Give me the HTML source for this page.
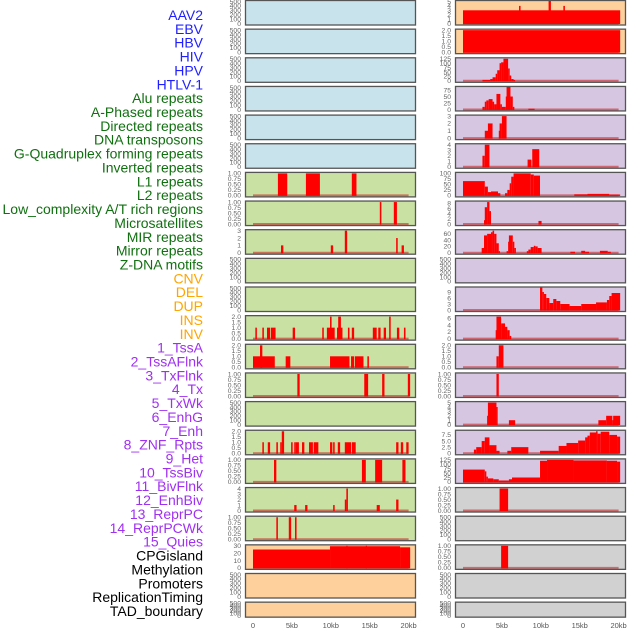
<!DOCTYPE html>
<html><head><meta charset="utf-8"><style>
html,body{margin:0;padding:0;background:#fff;width:630px;height:630px;overflow:hidden}
svg{display:block;font-family:"Liberation Sans",sans-serif}
</style></head><body>
<svg id="chart" width="630" height="630" viewBox="0 0 630 630"></svg>
<script>
const trackLabels=["AAV2","EBV","HBV","HIV","HPV","HTLV-1","Alu repeats","A-Phased repeats","Directed repeats","DNA transposons","G-Quadruplex forming repeats","Inverted repeats","L1 repeats","L2 repeats","Low_complexity A/T rich regions","Microsatellites","MIR repeats","Mirror repeats","Z-DNA motifs","CNV","DEL","DUP","INS","INV","1_TssA","2_TssAFlnk","3_TxFlnk","4_Tx","5_TxWk","6_EnhG","7_Enh","8_ZNF_Rpts","9_Het","10_TssBiv","11_BivFlnk","12_EnhBiv","13_ReprPC","14_ReprPCWk","15_Quies","CPGisland","Methylation","Promoters","ReplicationTiming","TAD_boundary"];
const labelGroups=[0,0,0,0,0,0,1,1,1,1,1,1,1,1,1,1,1,1,1,2,2,2,2,2,3,3,3,3,3,3,3,3,3,3,3,3,3,3,3,4,4,4,4,4];
const groupColors=["#1f1fff","#107010","#ffa500","#a030f0","#000000"];
const panelBg=["#c8e3eb","#c9e1a3","#fed09c","#d6c6e2","#d1d1d1"];
const T500=["0","100","200","300","400","500"],T1=["0.00","0.25","0.50","0.75","1.00"],T2=["0.0","0.5","1.0","1.5","2.0"];
// 44 panels: column-major (22 left, 22 right)
const panelTicks=[T500,T500,T500,T500,T500,T500,T1,T1,["0","1","2","3"],T500,T500,T2,T2,T1,T500,T2,T1,["0","1","2","3","4"],T1,["0","10","20","30"],T500,T500,
["0","1","2","3","4","5"],T2,["0","25","50","75","100","125"],["0","25","50","75"],["0","1","2","3"],["0","1","2","3","4"],["0","25","50","75","100"],["0","2","4","6","8"],["0","20","40","60"],T500,["0","3","6","9"],["0","2","4","6"],T2,T1,["0","1","2","3","4","5"],["0","2.5","5.0","7.5"],["0","25","50","75","100","125"],T1,T500,T1,T500,T500];
const panelMax=[500,500,500,500,500,500,1,1,3,500,500,2,2,1,500,2,1,4,1,30,500,500,5,2,125,85,3,4,100,8.5,70,500,11,6.5,2,1,5,9,125,1,500,1,500,500];
const leftSegments=[[],[],[],[],[],[],
[[3.2,4.4,1],[6.8,8.6,1],[12.7,13.3,1]],
[[16.3,16.5,1],[18.1,18.5,1]],
[[3.6,3.9,1],[10.0,10.3,1],[11.8,12.1,3],[18.4,18.6,2],[19.1,19.4,1]],
[],[],
[[0.3,0.5,1],[1.2,1.4,1],[1.8,2.2,1],[2.3,2.9,1],[5.1,5.4,1],[8.9,9.1,1],[9.5,10.5,1],[9.9,10.1,2],[10.8,11.5,1],[10.95,11.3,2],[12.2,12.4,1],[12.7,13.0,1],[15.4,15.9,1],[16.1,16.4,1],[16.8,17.1,1],[17.5,17.7,2],[18.5,18.8,1],[19.4,19.6,1]],
[[0,2.8,1],[0.9,1.2,2],[4.2,4.8,1],[9.9,12.4,1],[12.6,13.0,1],[13.1,14.2,1],[14.7,14.9,1]],
[[5.7,6.0,1],[14.3,14.8,1],[16.6,16.9,1],[19.9,20.2,1]],
[],
[[1.2,1.4,1],[1.9,2.2,1],[3.0,3.2,1],[3.5,3.7,1],[3.7,4.0,2],[4.9,5.1,1],[5.3,5.5,1],[5.5,5.9,1],[6.3,6.6,1],[7.2,7.7,1],[7.8,8.4,1],[9.9,10.2,1],[10.3,10.5,1],[10.9,11.2,1],[11.8,12.6,1],[12.7,13.2,1],[18.4,18.7,1],[19.0,19.3,1],[19.7,20.0,1]],
[[2.7,3.0,1],[14.0,14.5,1],[15.7,16.6,1],[19.2,19.6,1]],
[[5.3,5.6,1],[6.7,7.0,1],[10.3,10.5,1],[11.8,12.0,2],[12.0,12.2,4],[15.9,16.3,1],[18.4,18.7,2]],
[[3.0,3.2,1],[4.6,4.9,1],[5.4,5.6,1]],
[[0,9.9,25],[9.9,18.9,29.5],[18.9,20.2,28],[12.0,12.1,30],[14.5,14.6,30]],
[],[]];
const rightSegments=[
[[0,20.2,3],[7.2,7.4,4],[11.0,11.3,6],[12.9,13.1,4]],
[[0,20.2,2]],
[[2.5,3.5,5],[3.5,3.8,10],[3.8,4.2,20],[4.2,4.4,40],[4.4,4.7,60],[4.7,4.9,100],[4.9,5.2,105],[5.2,5.8,125],[5.8,6.0,70],[6.0,6.2,30],[6.2,6.5,10],[6.5,6.7,5]],
[[2.5,2.8,10],[2.8,3.0,30],[3.0,3.3,35],[3.3,3.8,40],[3.8,4.0,30],[4.0,4.3,20],[4.3,4.8,60],[4.8,5.0,20],[5.0,5.5,10],[5.5,5.6,50],[5.6,6.1,90],[6.1,6.4,50],[6.4,6.6,10],[8.4,9.2,3]],
[[2.8,3.3,1],[3.2,3.8,2],[4.6,4.8,1],[4.7,5.0,2],[5.0,5.6,3]],
[[2.5,2.8,2],[2.8,3.4,4],[8.3,8.8,1.3],[8.9,9.8,3.2]],
[[0,2.8,65],[2.8,3.2,40],[3.2,3.6,15],[3.6,4.5,18],[4.5,4.8,10],[5.4,5.7,10],[5.7,6.0,25],[6.0,6.2,55],[6.2,6.5,85],[6.5,8.7,100],[8.7,9.1,95],[9.1,9.9,90],[14.3,16.0,5],[16.0,18.8,7],[18.8,20.2,4]],
[[2.7,2.8,1.5],[2.8,3.1,6.5],[3.1,3.4,8.5],[3.4,3.6,5],[9.7,10.1,1.2]],
[[2.4,2.7,15],[2.7,3.1,55],[3.1,3.6,60],[3.6,3.8,65],[3.8,4.0,70],[4.0,4.3,60],[4.3,4.6,30],[4.6,4.7,5],[5.6,5.8,5],[5.8,5.9,35],[5.9,6.4,55],[6.4,6.6,35],[6.6,6.8,15],[8.2,8.4,5],[8.4,8.7,10],[8.7,9.1,18],[9.1,9.3,22],[9.3,9.6,20],[9.6,10.1,15],[13.8,14.4,3],[15.2,15.7,6],[15.7,16.2,3],[17.6,18.6,6],[18.6,19.0,3]],
[],
[[9.9,10.2,12],[10.2,10.4,9],[10.4,10.7,8],[10.7,11.1,6],[11.1,11.6,3.5],[11.6,12.0,5.5],[12.0,12.5,4.5],[12.5,13.7,3],[13.7,15.2,2],[15.2,17.1,3],[17.1,18.5,3.8],[18.5,18.8,5],[18.8,19.1,7],[19.1,20.2,8.5]],
[[4.2,4.3,2.5],[4.3,4.9,6.5],[4.9,5.4,4.5],[5.4,5.7,3.5],[5.7,6.0,2.5],[6.0,6.2,0.8]],
[[4.3,4.6,1],[4.6,5.2,2]],
[[4.3,4.6,1]],
[[3.1,3.3,2],[3.2,4.3,5],[4.3,4.4,4],[5.9,6.7,1],[17.4,18.4,1],[18.4,19.2,2],[19.2,19.3,1],[19.3,20.2,2]],
[[1.4,1.7,1.5],[1.7,2.4,2.5],[2.4,2.8,5],[2.8,3.4,6.5],[3.4,4.3,3.3],[4.3,4.7,1],[5.7,6.2,1],[6.2,8.4,2.5],[9.9,12.3,1],[12.3,13.3,3],[13.3,14.8,4.2],[14.8,15.7,5.2],[15.7,16.0,6.5],[16.0,16.3,7.2],[16.3,17.1,8.5],[17.1,17.3,9],[17.3,17.7,8],[17.7,18.8,8.8],[18.8,19.8,7.5],[19.8,20.2,6.8]],
[[0,2.8,70],[2.8,3.0,60],[3.0,3.2,30],[3.2,3.9,20],[3.9,4.6,15],[4.6,5.9,8],[5.9,6.3,15],[6.3,9.9,25],[9.9,10.8,120],[10.8,14.2,125],[14.2,18.5,122],[18.5,19.8,120],[19.8,20.2,115]],
[[4.7,5.8,1]],
[],
[[4.9,5.8,1]],
[],[]];
const xTickValues=[0,5,10,15,20];
const xTickLabels=["0","5kb","10kb","15kb","20kb"];

const NS="http://www.w3.org/2000/svg";
const svg=document.getElementById("chart");
function mk(tag,attrs,parent){const e=document.createElementNS(NS,tag);for(const k in attrs)e.setAttribute(k,attrs[k]);(parent||svg).appendChild(e);return e;}
const colLeft=[245,455], colW=171, pxPerKb=7.78;
function xScale(col,kb){return colLeft[col]+8+kb*pxPerKb;}
function rowTop(r){return r*28.65+0.5;}
function rowH(r){return r===21?15:24.5;}
function yScale(r,v,max){const t=rowTop(r),h=rowH(r);const y0=t+h-1.5,y1=t+1;return y0-(v/max)*(y0-y1);}

// labels
trackLabels.forEach((s,i)=>{
  const t=mk("text",{x:203,y:15+i*13.86,"text-anchor":"end","dominant-baseline":"central","font-size":"14",fill:groupColors[labelGroups[i]]});
  
  
  t.textContent=s;
});

function panelGroup(i){return labelGroups[i]===3?3:(labelGroups[i]===4?4:labelGroups[i]);}
for(let i=0;i<44;i++){
  const col=i<22?0:1, r=i%22, x=colLeft[col], t=rowTop(r), h=rowH(r), max=panelMax[i];
  const g=mk("g",{});
  
  
  const clipId="c"+i;
  const cp=mk("clipPath",{id:clipId},g);mk("rect",{x:x,y:t,width:colW,height:h},cp);
  const bg=mk("rect",{x:x,y:t,width:colW,height:h,fill:panelBg[panelGroup(i)]},g);
  
  
  const segs=col===0?leftSegments[r]:rightSegments[r];
  const inner=mk("g",{"clip-path":"url(#"+clipId+")"},g);
  if(segs.length){
    const bl=mk("line",{x1:xScale(col,0),x2:xScale(col,20),y1:yScale(r,0,max),y2:yScale(r,0,max),stroke:"rgba(200,40,40,0.6)","stroke-width":2},inner);
    
    
  }
  segs.forEach(s=>{
    const x1=xScale(col,s[0]),x2=xScale(col,s[1]),y=yScale(r,s[2],max),y0=yScale(r,0,max);
    const b=mk("rect",{x:x1,y:y,width:Math.max(1.2,x2-x1),height:y0-y+0.5,fill:"#ff0000"},inner);
    
    
  });
  const fr=mk("rect",{x:x+0.5,y:t,width:colW-1,height:h,fill:"none",stroke:"#555","stroke-width":1.3},g);
  
  
  const ticks=panelTicks[i];
  ticks.forEach(s=>{
    const tl=mk("text",{x:x-4,y:yScale(r,parseFloat(s),max)+2.3,"text-anchor":"end","font-size":"6.8",fill:"#666"},g);
    
    
    tl.textContent=s;
  });
}
for(let col=0;col<2;col++){
  xTickValues.forEach((v,k)=>{
    const tl=mk("text",{x:xScale(col,v),y:628,"text-anchor":"middle","font-size":"7.5",fill:"#555"});
    
    
    tl.textContent=xTickLabels[k];
  });
}
</script>
</body></html>
